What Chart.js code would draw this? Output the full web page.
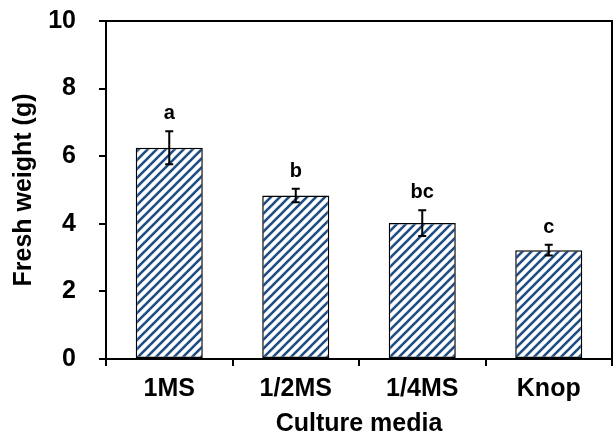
<!DOCTYPE html>
<html>
<head>
<meta charset="utf-8">
<script src="https://cdn.jsdelivr.net/npm/chart.js@4/dist/chart.umd.min.js"></script>
<style>
html,body{margin:0;padding:0;background:#fff;}
#wrap{width:615px;height:437px;}
</style>
</head>
<body>
<div id="wrap"><canvas id="c" width="615" height="437"></canvas></div>
<script>
const categories = ['1MS', '1/2MS', '1/4MS', 'Knop'];
const freshWeight = [6.25, 4.84, 4.02, 3.22];
const errors = [0.49, 0.20, 0.38, 0.16];
const letters = ['a', 'b', 'bc', 'c'];
const yTicks = [0, 2, 4, 6, 8, 10];

const FONT = '"Liberation Sans", Arial, sans-serif';

function makePattern() {
  const s = 9;
  const p = document.createElement('canvas');
  p.width = s; p.height = s;
  const g = p.getContext('2d');
  g.fillStyle = '#ffffff';
  g.fillRect(0, 0, s, s);
  g.strokeStyle = '#1f4e85';
  g.lineWidth = 2.6;
  g.lineCap = 'square';
  for (const o of [-s, 0, s]) {
    g.beginPath();
    g.moveTo(o, s);
    g.lineTo(o + s, 0);
    g.stroke();
  }
  return document.getElementById('c').getContext('2d').createPattern(p, 'repeat');
}

const extras = {
  id: 'extras',
  afterDatasetsDraw(chart) {
    const ctx = chart.ctx;
    const y = chart.scales.y;
    const meta = chart.getDatasetMeta(0);
    ctx.save();
    ctx.strokeStyle = '#000';
    ctx.lineWidth = 2;
    meta.data.forEach((bar, i) => {
      const cx = bar.x;
      const top = y.getPixelForValue(freshWeight[i] + errors[i]);
      const bot = y.getPixelForValue(freshWeight[i] - errors[i]);
      const cap = 4;
      ctx.beginPath();
      ctx.moveTo(cx, top); ctx.lineTo(cx, bot);
      ctx.moveTo(cx - cap, top); ctx.lineTo(cx + cap, top);
      ctx.moveTo(cx - cap, bot); ctx.lineTo(cx + cap, bot);
      ctx.stroke();
      ctx.fillStyle = '#000';
      ctx.font = 'bold 20px ' + FONT;
      ctx.textAlign = 'center';
      ctx.textBaseline = 'alphabetic';
      ctx.fillText(letters[i], cx, top - 12);
    });
    const a = chart.chartArea;
    ctx.lineWidth = 2;
    ctx.beginPath();
    ctx.moveTo(a.left, a.top);
    ctx.lineTo(a.right, a.top);
    ctx.lineTo(a.right, a.bottom);
    ctx.stroke();
    ctx.restore();
  }
};

new Chart(document.getElementById('c'), {
  type: 'bar',
  data: {
    labels: categories,
    datasets: [{
      data: freshWeight,
      backgroundColor: makePattern(),
      borderColor: '#000',
      borderWidth: 1.5,
      borderSkipped: false,
      categoryPercentage: 1,
      barPercentage: 0.53
    }]
  },
  options: {
    responsive: false,
    animation: false,
    events: [],
    layout: { padding: { top: 21, right: 3, left: 0, bottom: 0 } },
    plugins: { legend: { display: false }, tooltip: { enabled: false } },
    scales: {
      x: {
        offset: true,
        grid: { offset: true, drawOnChartArea: false, tickLength: 7, color: '#000', lineWidth: 2 },
        border: { display: true, color: '#000', width: 2 },
        ticks: { color: '#000', font: { family: FONT, size: 25, weight: 'bold' }, padding: 8 },
        title: { display: true, text: 'Culture media', color: '#000',
                 font: { family: FONT, size: 25, weight: 'bold', lineHeight: 1 }, padding: { top: 0, bottom: 0 } },
        afterFit(s) { s.height = 78; s.paddingLeft = 0; s.paddingRight = 0; }
      },
      y: {
        min: 0, max: 10,
        afterBuildTicks(s) { s.ticks = yTicks.map(v => ({ value: v })); },
        grid: { drawOnChartArea: false, tickLength: 7, color: '#000', lineWidth: 2 },
        border: { display: true, color: '#000', width: 2 },
        ticks: { color: '#000', font: { family: FONT, size: 25, weight: 'bold' }, padding: 23 },
        title: { display: true, text: 'Fresh weight (g)', color: '#000',
                 font: { family: FONT, size: 25, weight: 'bold', lineHeight: 1 }, padding: { top: 12, bottom: 0 } },
        afterFit(s) { s.width = 106; s.paddingTop = 0; s.paddingBottom = 0; }
      }
    }
  },
  plugins: [extras]
});
</script>
</body>
</html>
